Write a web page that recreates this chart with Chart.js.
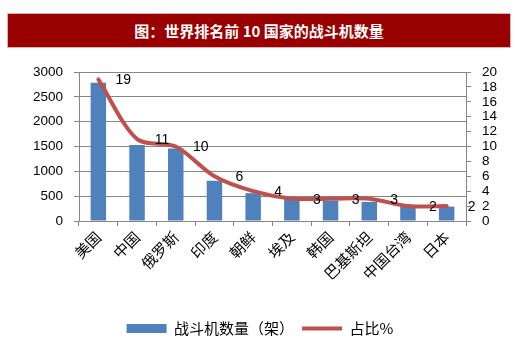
<!DOCTYPE html>
<html>
<head>
<meta charset="utf-8">
<script src="https://cdn.jsdelivr.net/npm/chart.js@4"></script>
<style>
  body { margin: 0; background: #fff; }
  #wrap { position: relative; width: 520px; height: 346px; }
  #banner {
    position: absolute; left: 7px; top: 13px; width: 502px; height: 33px;
    background: #990000; border: 1px solid #d9b3b3;
    color: #fff; font: bold 15px "Noto Sans CJK SC", sans-serif;
    line-height: 33px; text-align: center;
  }
  canvas { position: absolute; left: 0; top: 0; }
</style>
</head>
<body>
<div id="wrap">
  <canvas id="chart-bar" width="520" height="346"></canvas>
  <div id="banner">图：世界排名前 10 国家的战斗机数量</div>
</div>
<script>
const countries = ["美国", "中国", "俄罗斯", "印度", "朝鲜", "埃及", "韩国", "巴基斯坦", "中国台湾", "日本"];
const fighters = [2785, 1530, 1460, 810, 560, 450, 405, 385, 305, 290];
const shares = [19, 11, 10, 6, 4, 3, 3, 3, 2, 2];

const numFont = { family: "Liberation Sans", size: 13.5 };
const cjkFont = { family: "Noto Sans CJK SC", size: 15 };

//labels next to the line points
const lineLabels = {
  id: "lineLabels",
  afterDatasetsDraw(chart) {
    const meta = chart.getDatasetMeta(0);
    const ctx = chart.ctx;
    ctx.save();
    ctx.font = "14px Liberation Sans";
    ctx.fillStyle = "#000";
    ctx.textAlign = "center";
    ctx.textBaseline = "middle";
    meta.data.forEach((pt, i) => {
      ctx.fillText(shares[i], pt.x + 25, pt.y + 1);
    });
    ctx.restore();
  },
};

const ctx = document.getElementById("chart-bar");
new Chart(ctx, {
  data: {
    labels: countries,
    datasets: [
      {
        type: "line",
        label: "占比%",
        data: shares,
        yAxisID: "y1",
        borderColor: "#C0504D",
        backgroundColor: "#C0504D",
        borderWidth: 4,
        borderCapStyle: "round",
        tension: 0.3,
        pointRadius: 0,
        pointStyle: "line",
      },
      {
        type: "bar",
        label: "战斗机数量（架）",
        data: fighters,
        yAxisID: "y",
        backgroundColor: "#4F81BD",
        borderWidth: 0,
        barPercentage: 0.4,
        categoryPercentage: 1,
        pointStyle: "rect",
      },
    ],
  },
  options: {
    responsive: false,
    animation: false,
    layout: { padding: { top: 72, left: 0, right: 0, bottom: 0 } },
    plugins: {
      tooltip: { enabled: false },
      legend: {
        position: "bottom",
        labels: {
          usePointStyle: true,
          pointStyleWidth: 40,
          boxHeight: 9,
          padding: 8,
          color: "#000",
          font: cjkFont,
          sort: (a, b) => b.datasetIndex - a.datasetIndex,
        },
      },
    },
    scales: {
      x: {
        afterFit: (s) => { s.height = 92; },
        grid: {
          offset: true,
          drawOnChartArea: false,
          drawTicks: true,
          tickLength: 5,
          color: "#868686",
        },
        border: { color: "#868686" },
        ticks: {
          minRotation: 45,
          maxRotation: 45,
          color: "#000",
          font: cjkFont,
          padding: 2,
        },
      },
      y: {
        position: "left",
        min: 0,
        max: 3000,
        afterFit: (s) => { s.width = 79; },
        ticks: {
          stepSize: 500,
          color: "#000",
          font: numFont,
          padding: 11,
          callback: (v) => String(v),
        },
        grid: { color: "#868686", tickLength: 5 },
        border: { color: "#868686" },
      },
      y1: {
        position: "right",
        min: 0,
        max: 20,
        afterFit: (s) => { s.width = 54; },
        ticks: {
          stepSize: 2,
          autoSkip: false,
          color: "#000",
          font: numFont,
          padding: 11,
        },
        grid: { drawOnChartArea: false, color: "#868686", tickLength: 5 },
        border: { color: "#868686" },
      },
    },
  },
  plugins: [lineLabels],
});
</script>
</body>
</html>
